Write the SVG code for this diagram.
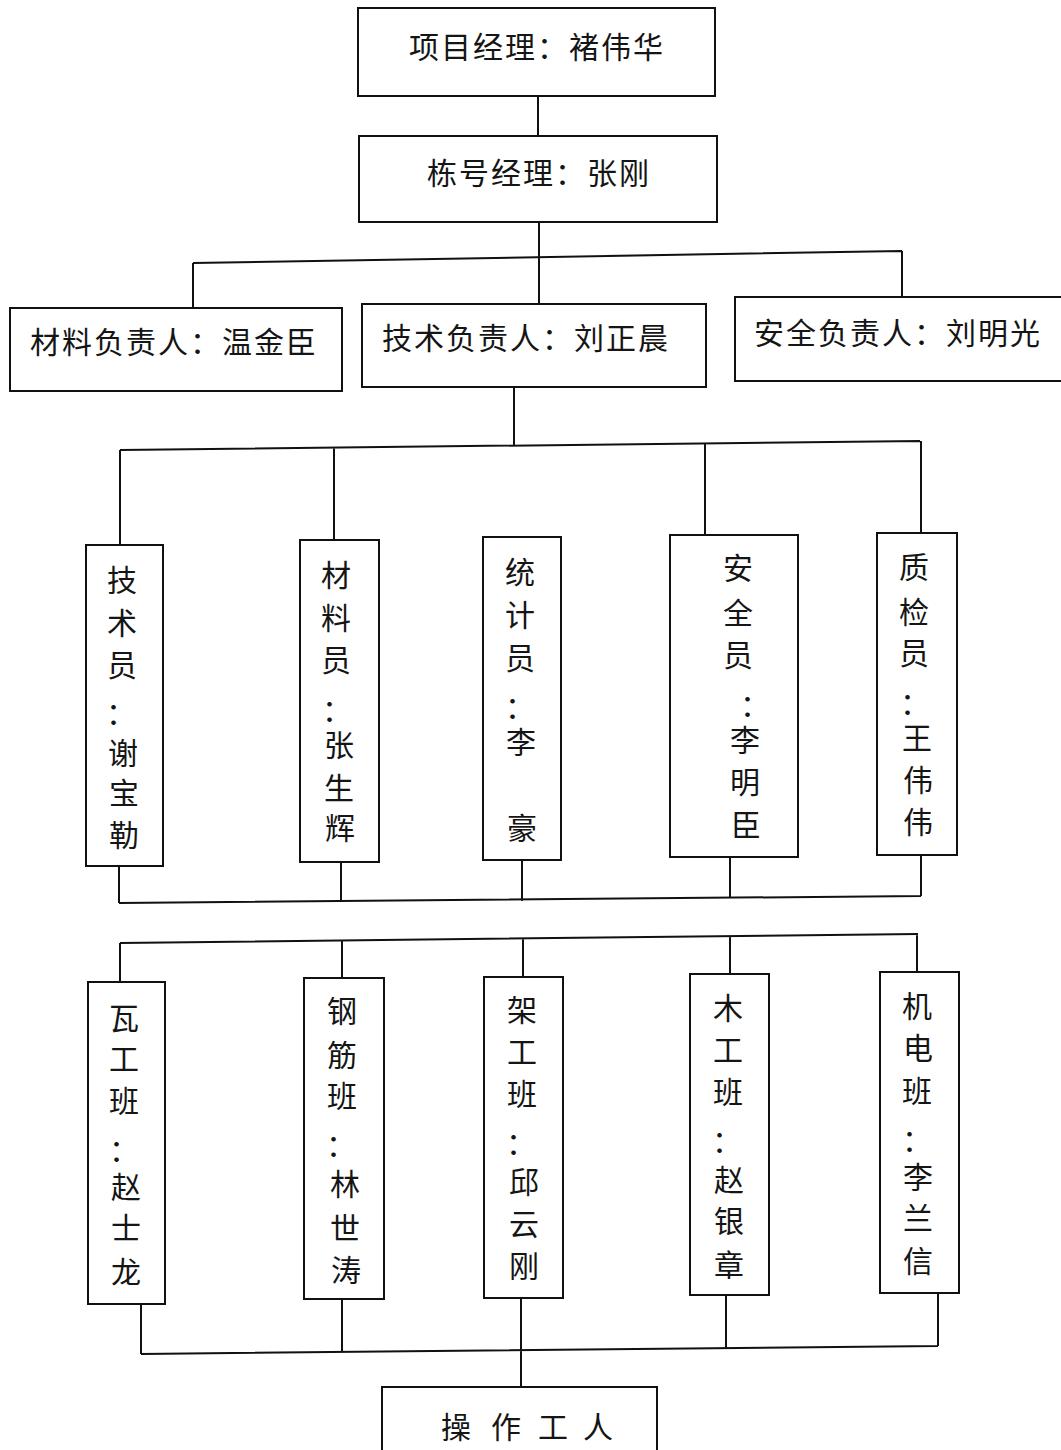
<svg xmlns="http://www.w3.org/2000/svg" width="1061" height="1450" viewBox="0 0 1061 1450">
<style>
.box{fill:#fff;stroke:#111;stroke-width:2}
.t{font-family:"Liberation Serif","Noto Sans CJK SC",serif;font-size:30px;fill:#151515;dominant-baseline:central}
.h{text-anchor:middle;letter-spacing:2px}
.v{text-anchor:middle}
.c{fill:none;stroke:#111;stroke-width:2}
</style>
<rect width="1061" height="1450" fill="#fff"/>
<g id="connectors">
<path class="c" d="M538 96V136"/>
<path class="c" d="M539 222V304M193 263L902 251M193 263V308M902 251V297"/>
<path class="c" d="M514 387V446M120 450L920 441M120 450V545M334 448V540M705 443V535M921 441V533"/>
<path class="c" d="M119 866V903M341 862V902M522 860V901M730 857V898M921 855V896M119 903L921 896"/>
<path class="c" d="M120 943L918 934M120 943V982M342 941V978M523 939V977M730 937V974M917 934V972"/>
<path class="c" d="M141 1304V1354M342 1299V1353M521 1298V1387M726 1295V1348M938 1293V1346M141 1354L938 1346"/>
</g>
<g id="n-xmjl"><rect class="box" x="358" y="8" width="357" height="88"/><text class="t h" x="537" y="47">项目经理：褚伟华</text></g>
<g id="n-dhjl"><rect class="box" x="359" y="136" width="358" height="86"/><text class="t h" x="539" y="173">栋号经理：张刚</text></g>
<g id="n-clfz"><rect class="box" x="10" y="308" width="332" height="83"/><text class="t h" x="174" y="342">材料负责人：温金臣</text></g>
<g id="n-jsfz"><rect class="box" x="362" y="304" width="344" height="83"/><text class="t h" x="526" y="338">技术负责人：刘正晨</text></g>
<g id="n-aqfz"><rect class="box" x="735" y="297" width="340" height="84"/><text class="t h" x="898" y="333">安全负责人：刘明光</text></g>

<g id="n-jsy"><rect class="box" x="86" y="545" width="77" height="321"/><text class="t v" x="122 122 122 121 123 124 124" y="580 623 665 713 753 793 835">技术员：谢宝勒</text></g>
<g id="n-cly"><rect class="box" x="300" y="540" width="79" height="322"/><text class="t v" x="336 336 336 337 339 339 340" y="575 618 660 710 745 788 828">材料员：张生辉</text></g>
<g id="n-tjy"><rect class="box" x="483" y="537" width="78" height="323"/><text class="t v" x="520 520 520 520 521 522" y="572 615 658 707 742 828">统计员：李豪</text></g>
<g id="n-aqy"><rect class="box" x="670" y="535" width="128" height="322"/><text class="t v" x="738 738 738 755 745 745 746" y="568 613 655 705 740 782 825">安全员：李明臣</text></g>
<g id="n-zjy"><rect class="box" x="877" y="533" width="80" height="322"/><text class="t v" x="914 914 914 915 917 918 918" y="567 612 653 703 738 780 822">质检员：王伟伟</text></g>

<g id="n-wgb"><rect class="box" x="88" y="982" width="77" height="322"/><text class="t v" x="124 124 124 124 126 126 126" y="1018 1059 1101 1150 1187 1228 1272">瓦工班：赵士龙</text></g>
<g id="n-gjb"><rect class="box" x="304" y="978" width="80" height="321"/><text class="t v" x="342 342 342 341 345 345 346" y="1011 1055 1096 1145 1184 1228 1270">钢筋班：林世涛</text></g>
<g id="n-jgb"><rect class="box" x="484" y="977" width="79" height="321"/><text class="t v" x="522 522 522 521 524 524 524" y="1010 1052 1094 1143 1182 1224 1266">架工班：邱云刚</text></g>
<g id="n-mgb"><rect class="box" x="690" y="974" width="79" height="321"/><text class="t v" x="728 728 728 727 729 729 729" y="1008 1050 1092 1141 1180 1221 1265">木工班：赵银章</text></g>
<g id="n-jdb"><rect class="box" x="880" y="972" width="79" height="321"/><text class="t v" x="917 918 917 917 918 918 918" y="1006 1048 1091 1140 1177 1218 1261">机电班：李兰信</text></g>

<g id="n-czgr"><rect class="box" x="382" y="1387" width="275" height="80"/><text class="t v" x="456 506 553 598" y="1427">操作工人</text></g>
</svg>
